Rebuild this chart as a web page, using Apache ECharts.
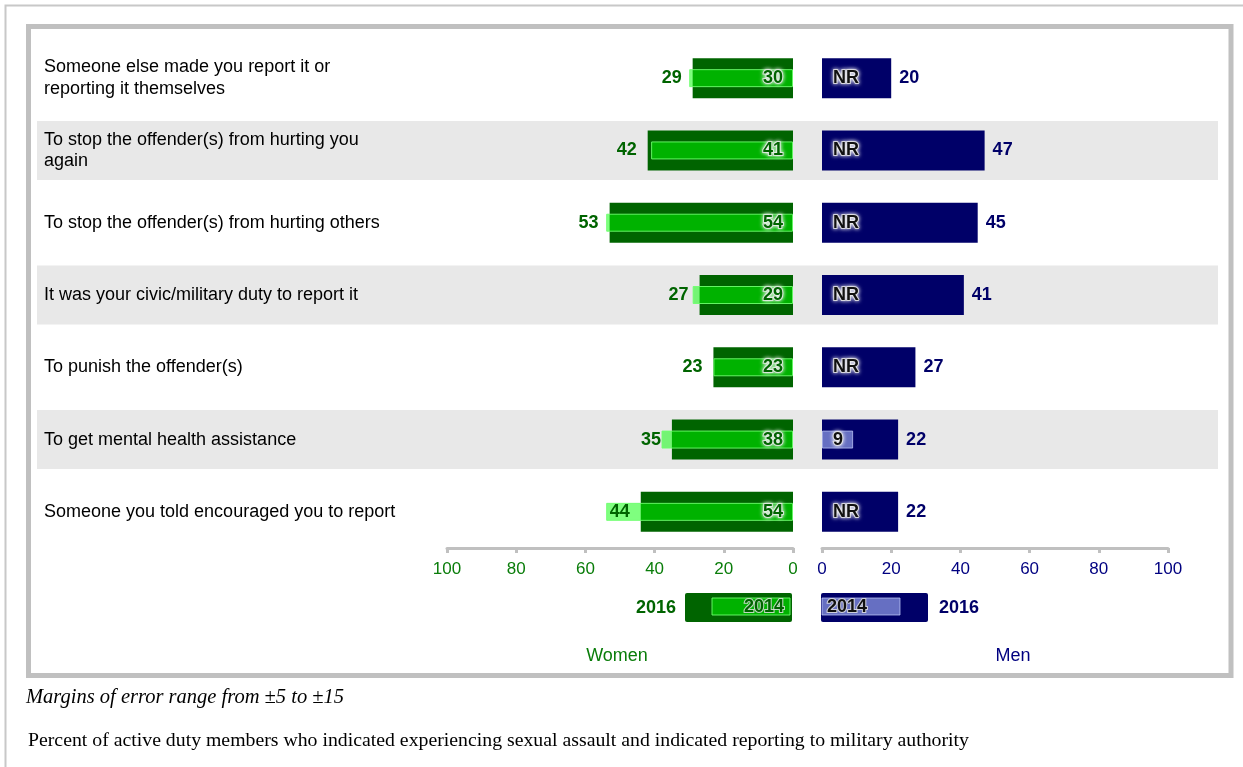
<!DOCTYPE html>
<html>
<head>
	<meta charset="utf-8">
	<script src="https://cdn.jsdelivr.net/npm/echarts@6/dist/echarts.min.js"></script>
	<style>
		html, body { margin: 0; padding: 0; background: #fff; }
		#chart { width: 1243px; height: 767px; }
	</style>
</head>
<body>
	<div id="chart"></div>
	<script>
		// reasons for reporting (rows top to bottom)
		var reasons = [
			'Someone else made you report it or\nreporting it themselves',
			'To stop the offender(s) from hurting you\nagain',
			'To stop the offender(s) from hurting others',
			'It was your civic/military duty to report it',
			'To punish the offender(s)',
			'To get mental health assistance',
			'Someone you told encouraged you to report'
		];
		var women2016 = [29, 42, 53, 27, 23, 35, 44];
		var women2014 = [30, 41, 54, 29, 23, 38, 54];
		var men2016 = [20, 47, 45, 41, 27, 22, 22];
		var men2014 = [null, null, null, null, null, 9, null]; // null = NR
		var shade = [0, 1, 0, 1, 0, 1, 0];

		var GREEN = '#006400', NAVY = '#000068';
		var gridTop = 42, gridH = 506;
		var FONT = 'Liberation Sans';

		var haloLabel = {
			fontFamily: FONT, fontSize: 18, fontWeight: 'bold',
			textBorderColor: 'rgba(225,225,225,0.85)', textBorderWidth: 2,
			textShadowColor: 'rgba(255,255,255,0.95)', textShadowBlur: 4
		};

		var menOld = men2014.map(function (v) {
			if (v === null) {
				return { value: 0, itemStyle: { color: 'transparent', borderWidth: 0 }, label: { formatter: 'NR' } };
			}
			return { value: v };
		});

		function valueAxis(grid, inverse, color) {
			return {
				type: 'value', gridIndex: grid, inverse: inverse, min: 0, max: 100, interval: 20,
				position: 'bottom',
				axisLine: { show: true, lineStyle: { color: '#c0c0c0', width: 3 } },
				axisTick: { show: true, length: 5, lineStyle: { color: '#c0c0c0', width: 3 } },
				axisLabel: { color: color, fontSize: 17, fontFamily: FONT, margin: 13 },
				splitLine: { show: false }
			};
		}
		function hiddenCat(grid) {
			return { type: 'category', gridIndex: grid, data: reasons, inverse: true, show: false };
		}

		var option = {
			animation: false,
			grid: [
				{ left: 37, width: 1181, top: gridTop, height: gridH },
				{ left: 447, width: 346, top: gridTop, height: gridH },
				{ left: 822, width: 346, top: gridTop, height: gridH }
			],
			xAxis: [
				{ type: 'value', gridIndex: 0, min: 0, max: 1, show: false },
				valueAxis(1, true, '#0a7d0a'),
				valueAxis(2, false, '#000080')
			],
			yAxis: [
				{
					type: 'category', gridIndex: 0, data: reasons, inverse: true,
					axisLine: { show: false }, axisTick: { show: false },
					axisLabel: {
						inside: true, margin: 7, align: 'left', color: '#000',
						fontFamily: FONT, fontSize: 18, lineHeight: 21.5
					}
				},
				hiddenCat(1), hiddenCat(1),
				hiddenCat(2), hiddenCat(2)
			],
			series: [
				{
					name: 'shade', type: 'bar', xAxisIndex: 0, yAxisIndex: 0, data: shade,
					barWidth: 59, silent: true, z: 0,
					itemStyle: { color: '#e8e8e8' }
				},
				{
					name: 'Women 2016', type: 'bar', xAxisIndex: 1, yAxisIndex: 1, data: women2016,
					barWidth: 40, itemStyle: { color: GREEN },
					label: { show: true, position: 'left', distance: 11, color: GREEN,
						fontFamily: FONT, fontSize: 18, fontWeight: 'bold' }
				},
				{
					name: 'Women 2014', type: 'bar', xAxisIndex: 1, yAxisIndex: 2, data: women2014,
					barWidth: 18,
					itemStyle: { color: 'rgba(0,255,0,0.5)', borderColor: 'rgba(110,255,110,0.9)', borderWidth: 1 },
					label: Object.assign({ show: true, position: 'insideRight', distance: 10, color: GREEN }, haloLabel)
				},
				{
					name: 'Men 2016', type: 'bar', xAxisIndex: 2, yAxisIndex: 3, data: men2016,
					barWidth: 40, itemStyle: { color: NAVY },
					label: { show: true, position: 'right', distance: 8, color: NAVY,
						fontFamily: FONT, fontSize: 18, fontWeight: 'bold' }
				},
				{
					name: 'Men 2014', type: 'bar', xAxisIndex: 2, yAxisIndex: 4, data: menOld,
					barWidth: 18,
					itemStyle: { color: 'rgba(170,185,255,0.6)', borderColor: 'rgba(200,210,255,0.7)', borderWidth: 1 },
					label: Object.assign({ show: true, position: 'insideLeft', distance: 11, color: '#111' }, haloLabel)
				}
			],
			graphic: [
				// frames
				{ type: 'polyline', shape: { points: [[5.5, 767], [5.5, 5.5], [1243, 5.5]] },
					style: { stroke: '#c8c8c8', lineWidth: 2, fill: null }, z: -1 },
				{ type: 'rect', shape: { x: 28.5, y: 26.5, width: 1202.5, height: 649 },
					style: { stroke: '#c0c0c0', lineWidth: 5, fill: null }, z: -1 },
				// women legend
				{ type: 'text', x: 676, y: 608, style: { text: '2016', align: 'right', verticalAlign: 'middle',
					fill: GREEN, font: 'bold 18px "Liberation Sans"' } },
				{ type: 'rect', shape: { x: 685, y: 593, width: 107, height: 29, r: 2 }, style: { fill: GREEN } },
				{ type: 'rect', shape: { x: 712, y: 598, width: 78, height: 17 },
					style: { fill: 'rgba(0,255,0,0.5)', stroke: 'rgba(110,255,110,0.9)', lineWidth: 1 } },
				{ type: 'text', x: 784, y: 607, style: { text: '2014', align: 'right', verticalAlign: 'middle',
					fill: GREEN, font: 'bold 18px "Liberation Sans"', stroke: 'rgba(225,225,225,0.85)', lineWidth: 2,
					shadowColor: 'rgba(255,255,255,0.95)', shadowBlur: 4 } },
				// men legend
				{ type: 'rect', shape: { x: 821, y: 593, width: 107, height: 29, r: 2 }, style: { fill: NAVY } },
				{ type: 'rect', shape: { x: 822, y: 598, width: 78, height: 17 },
					style: { fill: 'rgba(170,185,255,0.6)', stroke: 'rgba(200,210,255,0.7)', lineWidth: 1 } },
				{ type: 'text', x: 827, y: 607, style: { text: '2014', align: 'left', verticalAlign: 'middle',
					fill: '#111', font: 'bold 18px "Liberation Sans"', stroke: 'rgba(225,225,225,0.85)', lineWidth: 2,
					shadowColor: 'rgba(255,255,255,0.95)', shadowBlur: 4 } },
				{ type: 'text', x: 939, y: 608, style: { text: '2016', align: 'left', verticalAlign: 'middle',
					fill: NAVY, font: 'bold 18px "Liberation Sans"' } },
				// panel names
				{ type: 'text', x: 617, y: 656, style: { text: 'Women', align: 'center', verticalAlign: 'middle',
					fill: '#0a7d0a', font: '18px "Liberation Sans"' } },
				{ type: 'text', x: 1013, y: 656, style: { text: 'Men', align: 'center', verticalAlign: 'middle',
					fill: '#000080', font: '18px "Liberation Sans"' } },
				// notes
				{ type: 'text', x: 26, y: 698, style: { text: 'Margins of error range from ±5 to ±15', align: 'left',
					verticalAlign: 'middle', fill: '#000', font: 'italic 20.5px "Liberation Serif"' } },
				{ type: 'text', x: 28, y: 741, style: { text: 'Percent of active duty members who indicated experiencing sexual assault and indicated reporting to military authority',
					align: 'left', verticalAlign: 'middle', fill: '#000', font: '19.8px "Liberation Serif"' } }
			]
		};

		var myChart = echarts.init(document.getElementById('chart'));
		myChart.setOption(option);
	</script>
</body>
</html>
